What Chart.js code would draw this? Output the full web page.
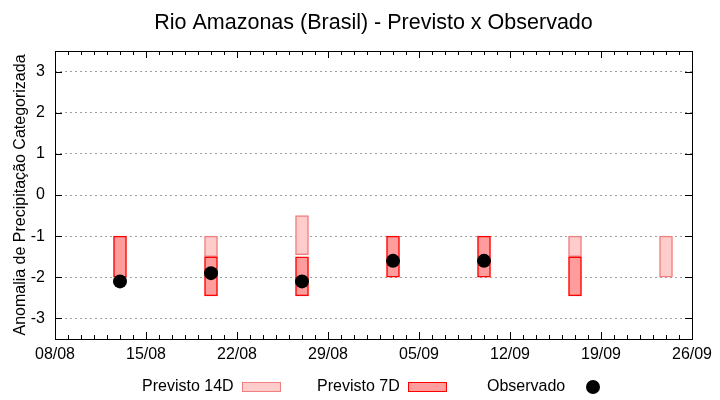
<!DOCTYPE html>
<html><head><meta charset="utf-8">
<script src="https://cdn.jsdelivr.net/npm/chart.js@4"></script>
<style>
html,body{margin:0;padding:0;background:#fff;}
#wrap{position:relative;width:720px;height:400px;}
#legend{position:absolute;left:0;top:376px;width:720px;height:22px;font:16px "Liberation Sans",Arial,sans-serif;color:#000;}
.lt{position:absolute;top:0;height:20px;line-height:20px;white-space:nowrap;}
.sw{position:absolute;box-sizing:border-box;}
</style></head><body>
<div id="wrap"><canvas id="c" width="720" height="400"></canvas><div id="legend"></div></div>
<script>
const chartTitle = 'Rio Amazonas (Brasil) - Previsto x Observado';
const yAxisTitle = 'Anomalia de Precipitação Categorizada';
const xTickLabels = ['08/08','15/08','22/08','29/08','05/09','12/09','19/09','26/09'];
const yTickValues = [-3,-2,-1,0,1,2,3];
const categories = ['13/08','20/08','27/08','03/09','10/09','17/09','24/09'];
const previsto14Low  = [null,-1.5,-1.45,null,null,-1.5,-2];
const previsto14High = [null,-1,-0.5,null,null,-1,-1];
const previsto7Low   = [-2,-2.45,-2.45,-2,-2,-2.45,null];
const previsto7High  = [-1,-1.5,-1.5,-1,-1,-1.5,null];
const observado      = [-2.1,-1.9,-2.1,-1.6,-1.6,null,null];

const FONT = '"Liberation Sans", Arial, sans-serif';
const parseDM = s => { const [d,m] = s.split('/').map(Number); return Date.UTC(2023, m-1, d); };
const t0 = parseDM(xTickLabels[0]);
const dayOf = s => Math.round((parseDM(s) - t0) / 864e5);
const tickLabelByDay = {};
xTickLabels.forEach(l => { tickLabelByDay[dayOf(l)] = l; });

const c14 = {fill:'#ffcccc', line:'#f08080'};
const c7 = {fill:'#ff9d9d', line:'#ff0000'};

const barData = (lo, hi) => categories.map((c,i) => lo[i]==null ? null : {x: dayOf(c), y: [lo[i], hi[i]]}).filter(Boolean);
const obsData = categories.map((c,i) => observado[i]==null ? null : {x: dayOf(c), y: observado[i]}).filter(Boolean);

const framePlugin = {
  id: 'frame',
  afterDraw(chart) {
    const {ctx, chartArea: a, scales} = chart;
    const xs = scales.x, ys = scales.y;
    ctx.save();
    ctx.strokeStyle = '#000';
    ctx.lineWidth = 1;
    ctx.beginPath();
    for (let d = xs.min; d <= xs.max; d++) {
      const px = Math.round(xs.getPixelForValue(d)) + 0.5;
      const len = (d in tickLabelByDay) ? 7 : 4;
      ctx.moveTo(px, a.bottom); ctx.lineTo(px, a.bottom - len);
      ctx.moveTo(px, a.top); ctx.lineTo(px, a.top + len);
    }
    yTickValues.forEach(v => {
      const py = Math.round(ys.getPixelForValue(v)) + 0.5;
      ctx.moveTo(a.left, py); ctx.lineTo(a.left + 7, py);
      ctx.moveTo(a.right, py); ctx.lineTo(a.right - 7, py);
    });
    ctx.stroke();
    ctx.strokeRect(Math.round(a.left)+0.5, Math.round(a.top)+0.5, Math.round(a.right-a.left), Math.round(a.bottom-a.top));
    // title centred over the plot area
    ctx.fillStyle = '#000';
    ctx.font = '21.5px ' + FONT;
    ctx.textAlign = 'center';
    ctx.textBaseline = 'alphabetic';
    ctx.fillText(chartTitle, (a.left + a.right) / 2, 29);
    ctx.restore();
  }
};

new Chart(document.getElementById('c'), {
  type: 'bar',
  data: {
    datasets: [
      {type:'scatter', label:'Observado', data: obsData, pointRadius:7, pointHoverRadius:7, backgroundColor:'#000', borderColor:'#000', borderWidth:0, order:0},
      {type:'bar', label:'Previsto 14D', data: barData(previsto14Low, previsto14High), backgroundColor:c14.fill, borderColor:c14.line, borderWidth:1.5, borderSkipped:false, barThickness:13, grouped:false, order:2},
      {type:'bar', label:'Previsto 7D', data: barData(previsto7Low, previsto7High), backgroundColor:c7.fill, borderColor:c7.line, borderWidth:1.5, borderSkipped:false, barThickness:13, grouped:false, order:1}
    ]
  },
  options: {
    responsive:false, animation:false, devicePixelRatio:1,
    layout:{padding:{left:0,right:28,top:51,bottom:0}},
    plugins:{
      legend:{display:false}, tooltip:{enabled:false}, title:{display:false}
    },
    scales:{
      x:{type:'linear', min:0, max:dayOf(xTickLabels[xTickLabels.length-1]), offset:false,
        afterBuildTicks: s => { s.ticks = xTickLabels.map(l => ({value: dayOf(l)})); },
        ticks:{autoSkip:false, maxRotation:0, color:'#000', padding:6, font:{family:FONT, size:16}, callback: v => tickLabelByDay[v] ?? ''},
        grid:{display:false, drawTicks:false}, border:{display:false},
        afterFit: s => { s.height = 61; }
      },
      y:{type:'linear', min:-3.5, max:3.5,
        afterBuildTicks: s => { s.ticks = yTickValues.map(v => ({value: v})); },
        ticks:{color:'#000', padding:10, font:{family:FONT, size:16}, callback: v => String(v)},
        grid:{color:'#a0a0a0', lineWidth:1, drawTicks:false}, border:{display:false, dash:[2,3]},
        title:{display:true, text:yAxisTitle, color:'#000', font:{family:FONT, size:16}, padding:{top:11,bottom:0}},
        afterFit: s => { s.width = 55; }
      }
    }
  },
  plugins:[framePlugin]
});

const legendItems = [
  {text:'Previsto 14D', tx:142, sx:242, kind:'box', c:c14},
  {text:'Previsto 7D', tx:317, sx:408, kind:'box', c:c7},
  {text:'Observado', tx:487, sx:586, kind:'dot'}
];
const lg = document.getElementById('legend');
legendItems.forEach(it => {
  const t = document.createElement('div'); t.className='lt'; t.style.left = it.tx+'px'; t.textContent = it.text; lg.appendChild(t);
  const s = document.createElement('div'); s.className='sw';
  if (it.kind==='box') { s.style.cssText += `left:${it.sx}px;top:6px;width:39px;height:10px;background:${it.c.fill};border:1.5px solid ${it.c.line};`; }
  else { s.style.cssText += `left:${it.sx}px;top:4px;width:14px;height:14px;border-radius:50%;background:#000;`; }
  lg.appendChild(s);
});
</script>
</body></html>
